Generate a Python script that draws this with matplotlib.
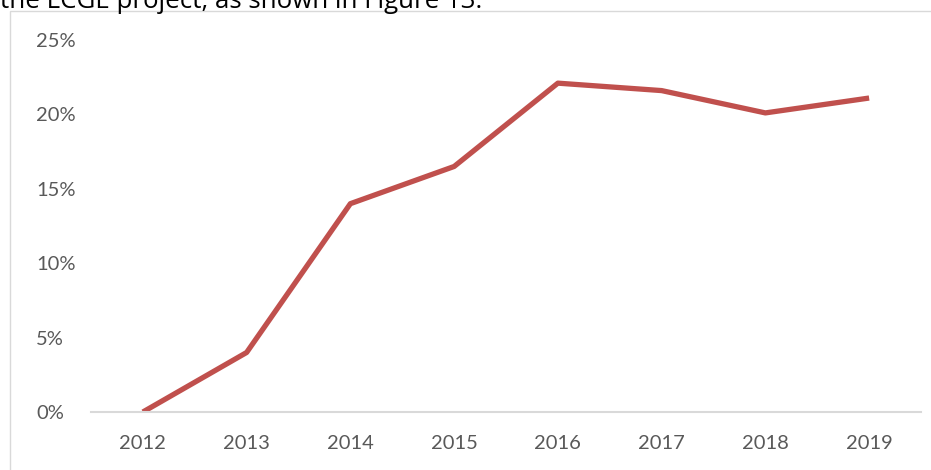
import matplotlib.pyplot as plt
from matplotlib.patches import Rectangle

# === Data ===
years = ['2012', '2013', '2014', '2015', '2016', '2017', '2018', '2019']
share = [0.0, 4.0, 14.0, 16.5, 22.1, 21.6, 20.1, 21.1]
y_ticks = [0, 5, 10, 15, 20, 25]
y_labels = [f'{v}%' for v in y_ticks]

plt.rcParams['font.family'] = ['Lato', 'DejaVu Sans']

fig = plt.figure(figsize=(9.31, 4.70), dpi=100)

# cut-off caption line from the page above the chart
fig.text(0.0, 1 - 8 / 470, 'the LCGE project, as shown in Figure 13.',
         fontsize=18.6, color='black', ha='left', va='baseline',
         family=['Open Sans', 'DejaVu Sans'])

# chart frame
fig.patches.append(Rectangle((10 / 931, -0.05), 1.0, 1 - 11 / 470 + 0.05,
                             transform=fig.transFigure, fill=False,
                             edgecolor='#d9d9d9', linewidth=1.0))

ax = fig.add_axes([91 / 931, 1 - 412 / 470, (921 - 91) / 931, (412 - 40) / 470])
x = list(range(len(years)))
ax.plot(x, share, color='#c0504d', linewidth=3.8, solid_capstyle='butt')

ax.set_xlim(-0.5, len(years) - 0.5)
ax.set_ylim(0, 25)
ax.set_xticks(x)
ax.set_xticklabels(years)
ax.set_yticks(y_ticks)
ax.set_yticklabels(y_labels, ha='left')

for s in ['top', 'right', 'left']:
    ax.spines[s].set_visible(False)
ax.spines['bottom'].set_color('#d9d9d9')
ax.spines['bottom'].set_linewidth(1.5)
ax.tick_params(axis='both', length=0, labelsize=14.5, colors='#595959')
ax.tick_params(axis='x', pad=16.5)
ax.tick_params(axis='y', pad=39.6)

fig.savefig('out.png', dpi=100)
